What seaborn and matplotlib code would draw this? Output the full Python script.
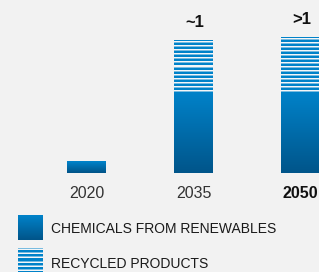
import matplotlib
matplotlib.use('Agg')
import matplotlib.pyplot as plt
import seaborn as sns
import numpy as np
import pandas as pd
from matplotlib import font_manager
from matplotlib.colors import to_rgb

# ---- data ----
years = ['2020', '2035', '2050']
renewables = [0.085, 0.61, 0.61]
recycled = [0.0, 0.39, 0.415]
value_labels = ['', '~1', '>1']
legend_labels = ['CHEMICALS FROM RENEWABLES', 'RECYCLED PRODUCTS']

BG = '#f2f2f2'
TOP = np.array(to_rgb('#0082c9'))
BOT = np.array(to_rgb('#00558a'))
STRIPE_BLUE = np.array(to_rgb('#0082c9'))
STRIPE_WHITE = np.array(to_rgb('#f4f6f8'))
STRIPE_MID = (STRIPE_BLUE + STRIPE_WHITE) / 2

names = {f.name for f in font_manager.fontManager.ttflist}
narrow = 'Liberation Sans Narrow' if 'Liberation Sans Narrow' in names else 'Liberation Sans'

sns.set_theme(style='white')
plt.rcParams['font.family'] = ['Liberation Sans', 'DejaVu Sans']

W, H = 319, 272
fig = plt.figure(figsize=(W / 100, H / 100), dpi=100, facecolor=BG)
base_px = 173          # baseline row (from top)
unit_px = 132          # pixels per unit
ax = fig.add_axes([0, (H - base_px) / H, 1, base_px / H])
ax.set_facecolor(BG)

totals = [a + b for a, b in zip(renewables, recycled)]
df = pd.DataFrame({'year': years, 'total': totals, 'renew': renewables})

sns.barplot(data=df, x='year', y='total', width=0.36, color='#0082c9',
            saturation=1, errorbar=None, ax=ax)
n_tot = len(ax.patches)
sns.barplot(data=df, x='year', y='renew', width=0.36, color='#0082c9',
            saturation=1, errorbar=None, ax=ax)
tot_patches = ax.patches[:n_tot]
ren_patches = ax.patches[n_tot:]


def gradient_img(h_px):
    n = max(int(round(h_px)), 2)
    t = np.linspace(0, 1, n)[:, None]
    img = TOP[None, :] * (1 - t) + BOT[None, :] * t
    return img[:, None, :]


def stripe_img(h_px):
    n = max(int(round(h_px)), 1)
    img = np.tile(STRIPE_BLUE, (n, 1))
    for r in range(n):  # r from top
        from_bottom = n - 1 - r
        if r >= 1:
            if from_bottom % 4 == 1:
                img[r] = STRIPE_WHITE
            elif from_bottom % 4 == 0:
                img[r] = STRIPE_MID
    return img[:, None, :]


for p in ren_patches:
    x0, y0, w, h = p.get_x(), p.get_y(), p.get_width(), p.get_height()
    p.set_facecolor('none')
    p.set_edgecolor('none')
    if h <= 0:
        continue
    ax.imshow(gradient_img(h * unit_px), extent=[x0, x0 + w, y0, y0 + h],
              aspect='auto', interpolation='bilinear', zorder=3)

for p, r in zip(tot_patches, renewables):
    x0, w, h = p.get_x(), p.get_width(), p.get_height()
    sh = h - r
    p.set_facecolor('none')
    p.set_edgecolor('none')
    if sh <= 1e-6:
        continue
    ax.imshow(stripe_img(sh * unit_px), extent=[x0, x0 + w, r, h],
              aspect='auto', interpolation='nearest', zorder=3)

ax.set_xlim(-86.5 / 107, (W - 86.5) / 107)
ax.set_ylim(0, base_px / unit_px)

for i, (t, lab) in enumerate(zip(totals, value_labels)):
    if lab:
        ax.annotate(lab, (i + 0.01, t), xytext=(0, 8), textcoords='offset points',
                    ha='center', va='bottom', fontsize=12, fontweight='bold',
                    color='#111111')

ax.set_xlabel('')
ax.set_ylabel('')
ax.set_yticks([])
ax.tick_params(axis='x', length=0, pad=9, labelsize=11.5, labelcolor='#333333')
ax.set_xticks(range(len(years)))
ax.set_xticklabels(years)
ax.get_xticklabels()[-1].set_fontweight('bold')
ax.get_xticklabels()[-1].set_color('#111111')
for s in ax.spines.values():
    s.set_visible(False)

# ---- legend ----
lax = fig.add_axes([0, 0, 1, (H - base_px) / H])
lax.axis('off')
lax.imshow(gradient_img(25), extent=[18, 43, 240, 215], aspect='auto',
           interpolation='bilinear')
lax.imshow(stripe_img(24)[::-1], extent=[18, 43, 273, 249], aspect='auto',
           interpolation='nearest')
lax.set_xlim(0, W)
lax.set_ylim(H, base_px)

t1 = lax.text(51, 229, legend_labels[0], family=narrow, fontsize=12,
              va='center', ha='left', color='#1a1a1a')
t2 = lax.text(51, 264, legend_labels[1], family=narrow, fontsize=12,
              va='center', ha='left', color='#1a1a1a')
fig.canvas.draw()
wpx = t1.get_window_extent().width
size = 12 * 225 / wpx
t1.set_fontsize(size)
t2.set_fontsize(size)

fig.savefig('out.png', dpi=100, facecolor=BG)
